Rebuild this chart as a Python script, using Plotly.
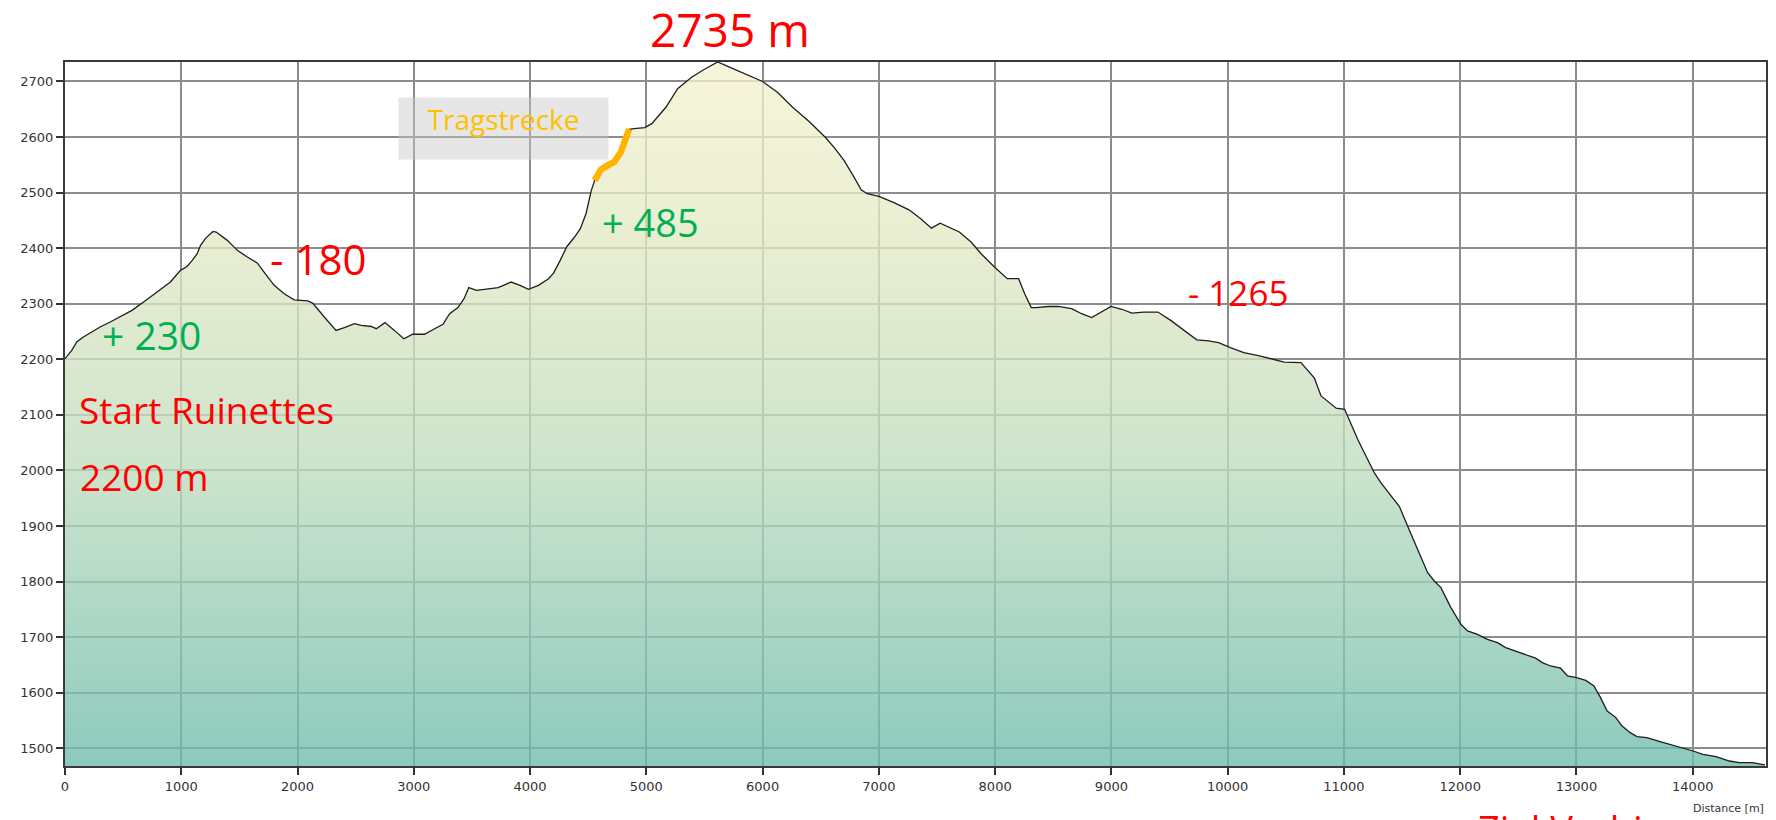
import plotly.graph_objects as go

# ---- data ----
distance_m = [
    0, 58, 101, 158, 230, 302, 389, 475, 576, 676,
    791, 907, 993, 1050, 1094, 1137, 1166, 1210, 1273, 1300,
    1396, 1482, 1568, 1655, 1712, 1799, 1885, 1971, 2087, 2130,
    2230, 2331, 2403, 2489, 2547, 2633, 2677, 2752, 2833, 2914,
    2991, 3092, 3179, 3251, 3308, 3380, 3432, 3473, 3539, 3640,
    3726, 3836, 3914, 3986, 4072, 4159, 4202, 4259, 4317, 4383,
    4432, 4481, 4527, 4556, 4608, 4660, 4723, 4781, 4809, 4852,
    4895, 4987, 5047, 5170, 5269, 5392, 5500, 5614, 5700, 5812,
    5920, 6000, 6130, 6256, 6400, 6537, 6620, 6700, 6780, 6848,
    6899, 6957, 7000, 7130, 7259, 7360, 7452, 7527, 7597, 7692,
    7793, 7879, 7994, 8104, 8202, 8254, 8311, 8354, 8455, 8542,
    8657, 8744, 8830, 8917, 8997, 9089, 9176, 9277, 9400, 9510,
    9604, 9734, 9835, 9922, 10023, 10139, 10254, 10370, 10486, 10630,
    10673, 10746, 10803, 10861, 10933, 11006, 11049, 11120, 11191, 11263,
    11320, 11406, 11477, 11549, 11634, 11720, 11777, 11834, 11920, 12006,
    12063, 12149, 12234, 12320, 12391, 12491, 12606, 12649, 12706, 12777,
    12863, 12923, 13000, 13080, 13150, 13207, 13264, 13335, 13392, 13463,
    13520, 13605, 13719, 13860, 14003, 14088, 14201, 14315, 14400, 14514,
    14620,
]
elevation_m = [
    2201, 2216, 2231, 2240, 2249, 2258, 2267, 2276, 2288, 2303,
    2321, 2339, 2360, 2367, 2378, 2390, 2405, 2418, 2430, 2429,
    2414, 2396, 2384, 2373, 2357, 2333, 2318, 2307, 2305, 2301,
    2276, 2252, 2257, 2264, 2261, 2259, 2255, 2266, 2252, 2237,
    2245, 2245, 2255, 2263, 2282, 2293, 2309, 2329, 2324, 2327,
    2329, 2339, 2333, 2326, 2333, 2345, 2355, 2378, 2403, 2420,
    2435, 2462, 2504, 2522, 2541, 2548, 2555, 2573, 2588, 2614,
    2615, 2617, 2624, 2654, 2687, 2708, 2722, 2735, 2727, 2717,
    2707, 2700, 2680, 2654, 2628, 2600, 2580, 2558, 2530, 2505,
    2498, 2495, 2493, 2482, 2469, 2453, 2436, 2445, 2438, 2429,
    2411, 2390, 2366, 2345, 2345, 2318, 2293, 2293, 2295, 2295,
    2291, 2282, 2275, 2285, 2295, 2290, 2283, 2285, 2285, 2270,
    2255, 2235, 2233, 2230, 2221, 2212, 2207, 2201, 2195, 2194,
    2183, 2166, 2134, 2124, 2112, 2110, 2088, 2055, 2025, 1995,
    1977, 1953, 1935, 1899, 1857, 1816, 1801, 1789, 1753, 1723,
    1711, 1705, 1696, 1690, 1681, 1674, 1666, 1662, 1654, 1648,
    1644, 1630, 1627, 1622, 1612, 1591, 1567, 1556, 1540, 1528,
    1521, 1519, 1512, 1504, 1495, 1489, 1485, 1477, 1474, 1474,
    1470,
]
assert len(distance_m) == len(elevation_m)

carry_start_m = 4556   # "Tragstrecke" section
carry_end_m = 4852

x_ticks = list(range(0, 15000, 1000))
y_ticks = list(range(1500, 2800, 100))

x_range = [0, 14630]
y_range = [1468, 2735]

# ---- figure ----
W, H = 1776, 820
ML, MR, MT, MB = 65, 10, 62, 54
PW, PH = W - ML - MR, H - MT - MB


def px(xp):
    return (xp - ML) / PW


def py(yp):
    return (H - MB - yp) / PH


def blend(rgb, a=0.78):
    # colour to draw with alpha a so that it looks like rgb over white
    c = [max(0, min(255, round((v - 255 * (1 - a)) / a))) for v in rgb]
    return f"rgba({c[0]},{c[1]},{c[2]},{a})"


fill_scale = [
    [0.0, blend((140, 202, 190))],
    [0.42, blend((204, 228, 204))],
    [0.74, blend((232, 238, 210))],
    [1.0, blend((247, 245, 218))],
]

carry_x = [d for d in distance_m if carry_start_m <= d <= carry_end_m]
carry_y = [e for d, e in zip(distance_m, elevation_m) if carry_start_m <= d <= carry_end_m]

fig = go.Figure()
fig.add_trace(go.Scatter(
    x=distance_m, y=elevation_m, mode="lines",
    line=dict(color="#1e1e1e", width=1.3),
    fill="tozeroy",
    fillgradient=dict(type="vertical", colorscale=fill_scale,
                      start=y_range[0], stop=y_range[1]),
    hoverinfo="skip", showlegend=False,
))
fig.add_trace(go.Scatter(
    x=carry_x, y=carry_y, mode="lines",
    line=dict(color="#ffb400", width=6.5),
    hoverinfo="skip", showlegend=False,
))

red = "#ff0000"
green = "#00b050"
txt_font = "Open Sans"

anns = [
    dict(text="2735 m", x=px(730), y=py(29), size=46, color=red, xanchor="center"),
    dict(text="- 180", x=px(318), y=py(258), size=42, color=red, xanchor="center"),
    dict(text="+ 230", x=px(151), y=py(334), size=39, color=green, xanchor="center"),
    dict(text="Start Ruinettes", x=px(77), y=py(410), size=37, color=red, xanchor="left"),
    dict(text="2200 m", x=px(78), y=py(476), size=37, color=red, xanchor="left"),
    dict(text="+ 485", x=px(650), y=py(222), size=38, color=green, xanchor="center"),
    dict(text="- 1265", x=px(1238), y=py(292), size=35, color=red, xanchor="center"),
    dict(text="Ziel Verbier", x=px(1476), y=py(829), size=38, color=red, xanchor="left"),
]
annotations = []
for a in anns:
    annotations.append(dict(
        text=a["text"], x=a["x"], y=a["y"], xref="paper", yref="paper",
        xanchor=a["xanchor"], yanchor="middle", showarrow=False,
        font=dict(family=txt_font, size=a["size"], color=a["color"]),
    ))

annotations.append(dict(
    text="Tragstrecke", x=px(503), y=py(128.5), xref="paper", yref="paper",
    xanchor="center", yanchor="middle", showarrow=False,
    width=205, height=57, valign="top", align="center",
    bgcolor="rgba(200,200,200,0.45)", borderpad=2,
    font=dict(family=txt_font, size=28, color="#ffc000"),
))
annotations.append(dict(
    text="Distance [m]", x=1.0, y=py(808), xref="paper", yref="paper",
    xanchor="right", yanchor="middle", showarrow=False,
    font=dict(family="DejaVu Sans", size=11, color="#333333"),
))

axis_common = dict(
    showline=True, linecolor="#3a3a3a", linewidth=2, mirror=True,
    ticks="outside", ticklen=7, tickwidth=1.5, tickcolor="#333333",
    tickfont=dict(family="DejaVu Sans", size=13, color="#333333"),
    zeroline=False, showgrid=True, automargin=False,
)

fig.update_layout(
    width=W, height=H,
    margin=dict(l=ML, r=MR, t=MT, b=MB, autoexpand=False),
    paper_bgcolor="white", plot_bgcolor="white",
    xaxis=dict(range=x_range, tickvals=x_ticks, ticktext=[str(v) for v in x_ticks],
               gridcolor="#8c8c8c", gridwidth=1.5, **axis_common),
    yaxis=dict(range=y_range, tickvals=y_ticks, ticktext=[str(v) for v in y_ticks],
               gridcolor="#8c8c8c", gridwidth=2, **axis_common),
    annotations=annotations,
    showlegend=False,
)

fig.write_html(
    "out.html",
    config={"displayModeBar": False},
    post_script="document.body.style.margin='0';document.body.style.padding='0';",
)
